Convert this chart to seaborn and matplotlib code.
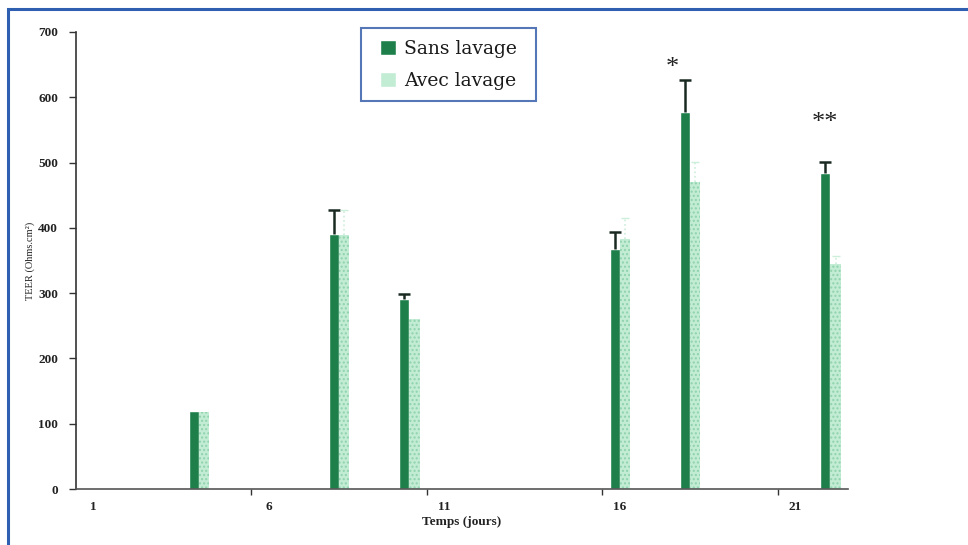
import matplotlib
matplotlib.use("Agg")
import matplotlib.pyplot as plt
import seaborn as sns
import pandas as pd
import numpy as np
from matplotlib.patches import Rectangle
from matplotlib.container import BarContainer

# ---- data ----
days = [4, 8, 10, 16, 18, 22]
sans_lavage = [119, 391, 291, 367, 577, 484]
sans_err = [0, 37, 7, 26, 49, 17]
avec_lavage = [118, 389, 261, 383, 471, 345]
avec_err = [0, 38, 0, 32, 30, 12]
groups = ["Sans lavage", "Avec lavage"]
all_days = list(range(1, 23))
tick_days = [1, 6, 11, 16, 21]
stars = {18: "*", 22: "**"}

df = pd.DataFrame({
    "day": [str(d) for d in days] * 2,
    "group": [groups[0]] * len(days) + [groups[1]] * len(days),
    "value": sans_lavage + avec_lavage,
})

sns.set_theme(style="white")
plt.rcParams["font.family"] = ["Liberation Serif", "DejaVu Serif"]

dark = "#1f7f4a"
light = "#c3ecd4"

fig = plt.figure(figsize=(9.68, 5.45), dpi=100)
ax = fig.add_axes([76 / 968, 1 - 489 / 545, (848 - 76) / 968, (489 - 32) / 545])

order = [str(d) for d in all_days]
sns.barplot(data=df, x="day", y="value", hue="group", order=order,
            hue_order=groups, palette=[dark, light], width=0.58,
            dodge=True, gap=0, errorbar=None, ax=ax, legend=True,
            saturation=1)

# style light bars with speckle and add error bars (upper side only)
err_map = {0: sans_err, 1: avec_err}
val_map = {0: sans_lavage, 1: avec_lavage}
idx_of = {d - 1: k for k, d in enumerate(days)}
bar_conts = [c for c in ax.containers if isinstance(c, BarContainer)]
for gi, cont in enumerate(bar_conts):
    for bar in list(cont):
        if bar is None:
            continue
        hgt = bar.get_height()
        if hgt is None or np.isnan(hgt) or hgt == 0:
            continue
        xc = bar.get_x() + bar.get_width() / 2
        cat = int(round(xc))
        k = idx_of.get(cat)
        if k is None:
            continue
        if gi == 1:
            bar.set_hatch("....")
            bar.set_edgecolor("#8fd3ad")
            bar.set_linewidth(0)
        e = err_map[gi][k]
        if e > 0:
            if gi == 0:
                eb = ax.errorbar(xc, val_map[gi][k], yerr=[[0], [e]], fmt="none",
                                 ecolor="#1a2a22", elinewidth=1.8, capsize=4.5,
                                 capthick=1.8, zorder=3)
            else:
                eb = ax.errorbar(xc, val_map[gi][k], yerr=[[0], [e]], fmt="none",
                                 ecolor="#cdeedb", elinewidth=1.2, capsize=3,
                                 capthick=1.0, zorder=3)
                eb[2][0].set_linestyle(":")
            eb[1][0].set_visible(False)

# significance stars
star_dx = {18: -0.35, 22: 0.0}
star_dy = {18: 2, 22: 42}
for d, s in stars.items():
    k = days.index(d)
    top = sans_lavage[k] + sans_err[k]
    ax.text(d - 1 - 0.15 + star_dx[d], top + star_dy[d], s,
            ha="center", va="bottom", fontsize=19, color="#222222")

ax.set_xlim(-0.5, len(all_days) - 0.5)
ax.set_ylim(0, 700)
ax.set_yticks(range(0, 701, 100))
ax.set_yticklabels([str(v) for v in range(0, 701, 100)], fontsize=9.5,
                   fontweight="bold", color="#222222")
ax.set_xticks([d - 1 for d in tick_days])
ax.set_xticklabels([str(d) for d in tick_days], fontsize=9.5,
                   fontweight="bold", color="#222222")
ax.set_xticks([4.5, 9.5, 14.5, 19.5], minor=True)
ax.tick_params(axis="x", which="major", length=0, pad=9)
ax.tick_params(axis="x", which="minor", length=4, width=1, color="#333333",
               direction="out", bottom=True)
ax.tick_params(axis="y", length=5, width=1, color="#333333", direction="out",
               left=True, pad=8)

ax.set_xlabel("Temps (jours)", fontsize=9.5, fontweight="bold",
              color="#222222", labelpad=2)
ax.set_ylabel("TEER (Ohms.cm²)", fontsize=7.5, color="#222222", labelpad=2)

for sp in ["top", "right"]:
    ax.spines[sp].set_visible(False)
ax.spines["left"].set_color("#333333")
ax.spines["bottom"].set_color("#555555")
ax.spines["left"].set_linewidth(1.2)
ax.spines["bottom"].set_linewidth(1.2)

# legend
h, l = ax.get_legend_handles_labels()
leg = ax.legend(h, l, loc="upper left", bbox_to_anchor=(0.383, 1.002),
                frameon=True, fancybox=False,
                prop={"family": ["DejaVu Serif"], "size": 13.5},
                handlelength=0.85, handleheight=0.85, handletextpad=0.45,
                borderpad=0.45, labelspacing=0.75, borderaxespad=0)
frame = leg.get_frame()
frame.set_boxstyle("square", pad=0.55)
frame.set_mutation_aspect(0.3)
frame.set_edgecolor("#2a55a5")
frame.set_linewidth(1.5)
for t in leg.get_texts():
    t.set_color("#1a1a1a")

# scanned page border
fig.patches.append(Rectangle((8 / 968, -0.01), 1.2, 1 + 0.01 - 9 / 545,
                             transform=fig.transFigure, fill=False,
                             edgecolor="#2f5fb0", linewidth=2.2))

fig.savefig("out.png", dpi=100)
